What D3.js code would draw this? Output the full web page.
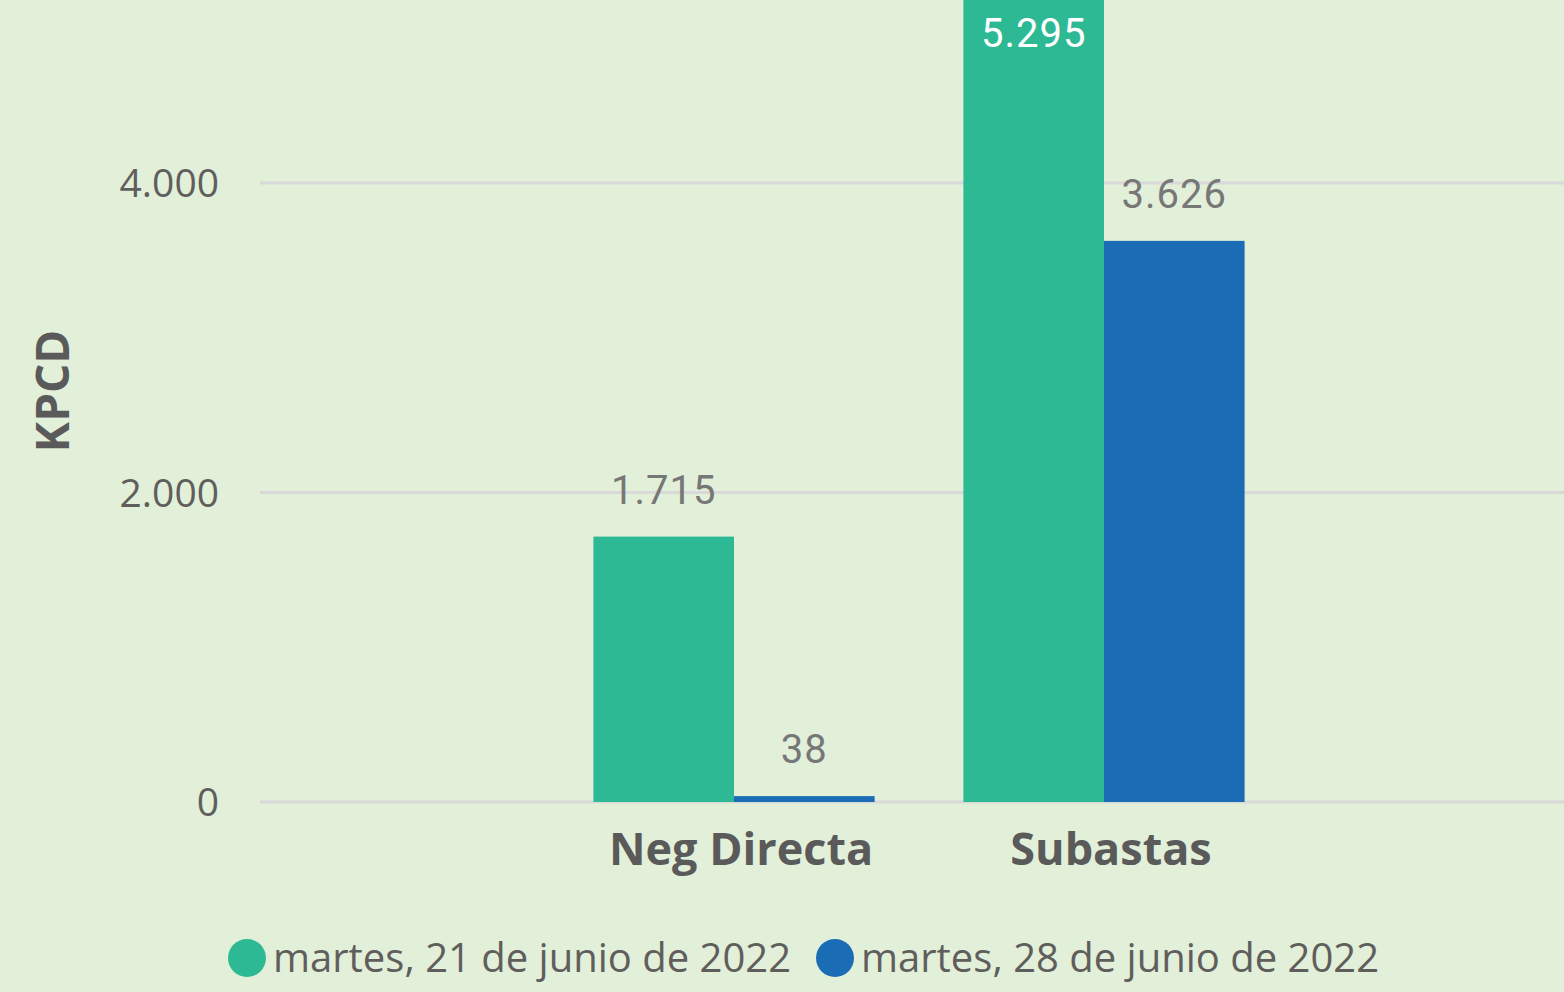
<!DOCTYPE html>
<html>
<head>
<meta charset="utf-8">
<script src="https://cdn.jsdelivr.net/npm/d3@7"></script>
<style>
  html, body { margin: 0; padding: 0; background: #e2efd9; }
  svg { display: block; }
</style>
</head>
<body>
<svg id="chart"></svg>
<script>
// KPCD bar chart

var categories = ['Neg Directa', 'Subastas'];
var seriesNames = ['martes, 21 de junio de 2022', 'martes, 28 de junio de 2022'];
var serie21 = [1715, 5295];
var serie28 = [38, 3626];
var yTicks = [0, 2000, 4000];

var W = 1564, H = 992;
var colors = ['#2cb994', '#1a6db5'];

var svg = d3.select("#chart").attr("width", W).attr("height", H);

svg.append("rect")
    .attr("width", W).attr("height", H)
    .attr("fill", "#e2efd9");

var fmt = function(v) { return d3.format(",")(v).replace(/,/g, "."); };

// scales
var y = d3.scaleLinear().domain([0, 4000]).range([802, 183]);
var x0 = d3.scaleBand().domain(categories).range([549, 1289])
    .paddingInner(0.24).paddingOuter(0.12);
var x1 = d3.scaleBand().domain([0, 1]).range([0, x0.bandwidth()]);

// grid
svg.selectAll("line.grid")
    .data(yTicks)
    .enter().append("line")
    .attr("class", "grid")
    .attr("x1", 260).attr("x2", W)
    .attr("y1", function(d) { return y(d); })
    .attr("y2", function(d) { return y(d); })
    .attr("stroke", "#d9d9d9")
    .attr("stroke-width", 3);

svg.selectAll("text.tick")
    .data(yTicks)
    .enter().append("text")
    .attr("class", "tick")
    .attr("x", 219)
    .attr("y", function(d) { return y(d); })
    .attr("dy", "0.36em")
    .attr("text-anchor", "end")
    .attr("font-family", "'Open Sans', sans-serif")
    .attr("font-size", 39)
    .attr("fill", "#605e5c")
    .text(fmt);

// bars
var allSeries = [serie21, serie28];
var data = [];
categories.forEach(function(c, i) {
    allSeries.forEach(function(s, j) {
        data.push({cat: c, s: j, v: s[i]});
    });
});

svg.selectAll("rect.bar")
    .data(data)
    .enter().append("rect")
    .attr("class", "bar")
    .attr("x", function(d) { return x0(d.cat) + x1(d.s); })
    .attr("width", x1.bandwidth())
    .attr("y", function(d) { return y(d.v); })
    .attr("height", function(d) { return y(0) - y(d.v); })
    .attr("fill", function(d) { return colors[d.s]; });

// data labels (inside the bar when it runs off the top)
function inside(d) { return y(d.v) - 33 < 40; }

svg.selectAll("text.lbl")
    .data(data)
    .enter().append("text")
    .attr("class", "lbl")
    .attr("x", function(d) { return x0(d.cat) + x1(d.s) + x1.bandwidth() / 2; })
    .attr("y", function(d) { return inside(d) ? 47 : y(d.v) - 33; })
    .attr("text-anchor", "middle")
    .attr("font-family", "Roboto, sans-serif")
    .attr("font-size", 40)
    .attr("letter-spacing", 1)
    .attr("fill", function(d) { return inside(d) ? "#ffffff" : "#777777"; })
    .text(function(d) { return fmt(d.v); });

// category labels
svg.selectAll("text.cat")
    .data(categories)
    .enter().append("text")
    .attr("class", "cat")
    .attr("x", function(d) { return x0(d) + x0.bandwidth() / 2 + 7; })
    .attr("y", 865)
    .attr("text-anchor", "middle")
    .attr("font-family", "'Open Sans', sans-serif")
    .attr("font-weight", "bold")
    .attr("font-size", 45)
    .attr("fill", "#5a5a5a")
    .text(function(d) { return d; });

// y title
svg.append("text")
    .attr("transform", "translate(69,391) rotate(-90)")
    .attr("text-anchor", "middle")
    .attr("font-family", "'Open Sans', sans-serif")
    .attr("font-weight", "bold")
    .attr("font-size", 46)
    .attr("fill", "#5a5a5a")
    .text("KPCD");

// legend
var legX = [247, 835];
seriesNames.forEach(function(n, i) {
    svg.append("circle")
        .attr("cx", legX[i]).attr("cy", 958).attr("r", 19)
        .attr("fill", colors[i]);
    svg.append("text")
        .attr("x", legX[i] + 26)
        .attr("y", 972)
        .attr("font-family", "'Open Sans', sans-serif")
        .attr("font-size", 40)
        .attr("fill", "#605e5c")
        .text(n);
});
</script>
</body>
</html>
